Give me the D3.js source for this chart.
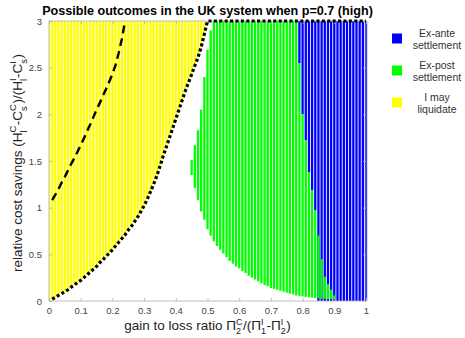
<!DOCTYPE html>
<html>
<head>
<meta charset="utf-8">
<script src="https://cdn.jsdelivr.net/npm/d3@7/dist/d3.min.js"></script>
<style>
  html, body { margin: 0; padding: 0; background: #fff; }
  svg { display: block; font-family: "Liberation Sans", Arial, sans-serif; }
</style>
</head>
<body>
<svg id="chart" width="465" height="338"></svg>
<script>
// Gain-to-loss ratio grid (one column per value)
const gainGrid = [0,0.01,0.02,0.03,0.04,0.05,0.06,0.07,0.08,0.09,0.1,0.11,0.12,0.13,0.14,0.15,0.16,0.17,0.18,0.19,0.2,
  0.21,0.22,0.23,0.24,0.25,0.26,0.27,0.28,0.29,0.3,0.31,0.32,0.33,0.34,0.35,0.36,0.37,0.38,0.39,0.4,
  0.41,0.42,0.43,0.44,0.45,0.46,0.47,0.48,0.49,0.5,0.51,0.52,0.53,0.54,0.55,0.56,0.57,0.58,0.59,0.6,
  0.61,0.62,0.63,0.64,0.65,0.66,0.67,0.68,0.69,0.7,0.71,0.72,0.73,0.74,0.75,0.76,0.77,0.78,0.79,0.8,
  0.81,0.82,0.83,0.84,0.85,0.86,0.87,0.88,0.89,0.9,0.91,0.92,0.93,0.94,0.95,0.96,0.97,0.98,0.99,1];

// Liquidation threshold (dotted curve); liquidation possible above it
const liquidFloor = [0,0.02,0.04,0.06,0.08,0.10,0.12,0.15,0.17,0.20,0.22,0.25,0.28,0.31,0.34,0.37,0.41,0.44,0.48,0.51,0.55,
  0.59,0.63,0.67,0.71,0.76,0.80,0.85,0.90,0.96,1.02,1.09,1.17,1.25,1.34,1.44,1.55,1.65,1.75,1.85,1.95,
  2.05,2.15,2.25,2.34,2.43,2.52,2.61,2.72,2.86,3,3,3,3,3,3,3,3,3,3,3,
  3,3,3,3,3,3,3,3,3,3,3,3,3,3,3,3,3,3,3,3,
  3,3,3,3,3,3,3,3,3,3,3,3,3,3,3,3,3,3,3,3];

// Second threshold (dashed curve), for gain ratio 0.01 .. 0.24
const dashedGain = [0.01,0.02,0.03,0.04,0.05,0.06,0.07,0.08,0.09,0.1,0.11,0.12,0.13,0.14,0.15,0.16,0.17,0.18,0.19,0.2,0.21,0.22,0.23,0.24];
const dashedCurve = [1.08,1.14,1.20,1.27,1.33,1.40,1.47,1.53,1.60,1.67,1.74,1.82,1.89,1.97,2.05,2.12,2.20,2.27,2.35,2.43,2.53,2.66,2.81,3.0];

// Ex-post settlement band, gain ratio 0.45 .. 0.90
const greenGain = [0.45,0.46,0.47,0.48,0.49,0.5,0.51,0.52,0.53,0.54,0.55,0.56,0.57,0.58,0.59,0.6,
  0.61,0.62,0.63,0.64,0.65,0.66,0.67,0.68,0.69,0.7,0.71,0.72,0.73,0.74,0.75,0.76,0.77,0.78,0.79,0.8,
  0.81,0.82,0.83,0.84,0.85,0.86,0.87,0.88,0.89,0.9];
const greenLow = [1.35,1.21,1.08,0.96,0.87,0.77,0.70,0.64,0.59,0.55,0.51,0.47,0.43,0.40,0.37,0.35,
  0.32,0.30,0.27,0.25,0.23,0.21,0.19,0.17,0.16,0.14,0.13,0.12,0.11,0.10,0.09,0.08,0.07,0.06,0.055,0.05,
  0.045,0.04,0.035,0.03,0.03,0.025,0.025,0.02,0.02,0.02];
const greenHigh = [1.51,1.67,1.83,2.05,2.40,2.69,2.90,3,3,3,3,3,3,3,3,3,
  3,3,3,3,3,3,3,3,3,3,3,3,3,3,3,3,3,3,2.55,2.0,
  1.72,1.38,1.19,0.97,0.70,0.45,0.26,0.18,0.12,0.06];

// Ex-ante settlement: blue from floor up to 3, gain ratio 0.79 .. 1
const blueGain = [0.79,0.8,0.81,0.82,0.83,0.84,0.85,0.86,0.87,0.88,0.89,0.9,0.91,0.92,0.93,0.94,0.95,0.96,0.97,0.98,0.99,1];
const blueFloor = [2.55,2.0,1.72,1.38,1.19,0.97,0,0,0,0,0,0,0,0,0,0,0,0,0,0,0,0];

const yMax = 3;
const xTicks = [0,0.1,0.2,0.3,0.4,0.5,0.6,0.7,0.8,0.9,1];
const yTicks = [0,0.5,1,1.5,2,2.5,3];

const legendItems = [
  { lines: ["Ex-ante", "settlement"], color: "#0000ff" },
  { lines: ["Ex-post", "settlement"], color: "#00ff00" },
  { lines: ["I may", "liquidate"], color: "#ffff00" }
];

// Axis label pieces: plain text runs and stacked super/subscript pairs
const xLabelParts = [
  { t: "gain to loss ratio \u03A0" }, { sup: "C", sub: "2" },
  { t: "/(\u03A0" }, { sup: "I", sub: "1" },
  { t: "-\u03A0" }, { sup: "I", sub: "2" }, { t: ")" }
];
const yLabelParts = [
  { t: "relative cost savings (H" }, { sup: "C", sub: "l" },
  { t: "-C" }, { sup: "C", sub: "s" },
  { t: ")/(H" }, { sup: "I", sub: "l" },
  { t: "-C" }, { sup: "I", sub: "s" }, { t: ")" }
];

const svg = d3.select("#chart");
const L = 49, R = 366, T = 21, B = 301;
const x = d3.scaleLinear().domain([0, 1]).range([L, R]);
const y = d3.scaleLinear().domain([0, 3]).range([B, T]);
const colW = 2.3;

svg.append("rect").attr("width", 465).attr("height", 338).attr("fill", "#fff");

svg.append("clipPath").attr("id", "plotClip")
  .append("rect").attr("x", L).attr("y", T - 1).attr("width", R - L + 2).attr("height", B - T + 1);

const plot = svg.append("g").attr("clip-path", "url(#plotClip)");

function columns(g, data, color) {
  g.append("g").selectAll("rect").data(data).join("rect")
    .attr("x", d => x(d.g) - colW / 2).attr("width", colW)
    .attr("y", d => y(d.hi)).attr("height", d => y(d.lo) - y(d.hi))
    .attr("fill", color);
}

// liquidation columns
columns(plot, gainGrid.map((g, i) => ({ g, lo: liquidFloor[i], hi: yMax })).filter(d => d.lo < d.hi), "#ffff00");
// ex-ante columns
columns(plot, blueGain.map((g, i) => ({ g, lo: blueFloor[i], hi: yMax })), "#0000ff");
// ex-post columns
columns(plot, greenGain.map((g, i) => ({ g, lo: greenLow[i], hi: greenHigh[i] })), "#00ff00");

// axes box
const axisColor = "#b0b0b0";
const axes = svg.append("g");
axes.append("rect").attr("x", L).attr("y", T).attr("width", R - L).attr("height", B - T)
  .attr("fill", "none").attr("stroke", axisColor).attr("stroke-width", 0.8);

const fmt = d => d3.format("~g")(d);
axes.append("g").attr("transform", `translate(0,${B})`)
  .call(d3.axisBottom(x).tickValues(xTicks).tickSize(-3).tickPadding(6).tickFormat(fmt));
axes.append("g").attr("transform", `translate(${L},0)`)
  .call(d3.axisLeft(y).tickValues(yTicks).tickSize(-3).tickPadding(7).tickFormat(fmt));
axes.append("g").attr("transform", `translate(${R},0)`)
  .call(d3.axisRight(y).tickValues(yTicks).tickSize(-3).tickFormat(""));
axes.append("g").attr("transform", `translate(0,${T})`)
  .call(d3.axisTop(x).tickValues(xTicks).tickSize(-3).tickFormat(""));

axes.selectAll(".domain").remove();
axes.selectAll(".tick line").attr("stroke", axisColor).attr("stroke-width", 0.8);
axes.selectAll(".tick text").attr("fill", "#444").attr("font-size", 9.5)
  .attr("font-family", "'Liberation Sans', Arial, sans-serif");

// threshold curves
const lineGen = d3.line().x(d => x(d[0])).y(d => y(d[1]));
const dottedPts = gainGrid.map((g, i) => [g, liquidFloor[i]]).filter(d => d[0] >= 0.01);
svg.append("path").attr("d", lineGen(dottedPts))
  .attr("fill", "none").attr("stroke", "#000").attr("stroke-width", 3.2)
  .attr("stroke-dasharray", "3 2.4");

svg.append("path").attr("d", lineGen(dashedGain.map((g, i) => [g, dashedCurve[i]])))
  .attr("fill", "none").attr("stroke", "#000").attr("stroke-width", 2.4)
  .attr("stroke-dasharray", "8 5");

// title
svg.append("text").attr("x", (L + R) / 2).attr("y", 15)
  .attr("text-anchor", "middle").attr("font-weight", "bold").attr("font-size", 12.6)
  .attr("fill", "#000")
  .text("Possible outcomes in the UK system when p=0.7 (high)");

// Lays out a label from text runs and stacked scripts, centred on the group origin
function richLabel(g, parts, size, scriptSize, supUp, subDown) {
  let cx = 0;
  parts.forEach(p => {
    if (p.t !== undefined) {
      const t = g.append("text").attr("x", cx).attr("y", 0)
        .attr("font-size", size).attr("fill", "#222").text(p.t);
      cx += t.node().getComputedTextLength();
    } else {
      const a = g.append("text").attr("x", cx).attr("y", -supUp)
        .attr("font-size", scriptSize).attr("fill", "#222").text(p.sup);
      const b = g.append("text").attr("x", cx).attr("y", subDown)
        .attr("font-size", scriptSize).attr("fill", "#222").text(p.sub);
      cx += Math.max(a.node().getComputedTextLength(), b.node().getComputedTextLength()) + 0.5;
    }
  });
  g.selectAll("text").attr("x", function () { return +d3.select(this).attr("x") - cx / 2; });
}

const xl = svg.append("g").attr("transform", `translate(${(L + R) / 2},330)`);
richLabel(xl, xLabelParts, 13.5, 9, 5.2, 3.6);

const yl = svg.append("g").attr("transform", `translate(22,${(T + B) / 2 + 2}) rotate(-90)`);
richLabel(yl, yLabelParts, 13.5, 9.5, 6.5, 4.9);

// legend
const lg = svg.append("g");
legendItems.forEach((item, i) => {
  const cy = 38.5 + i * 32;
  lg.append("rect").attr("x", 392).attr("y", cy - 5).attr("width", 10).attr("height", 10)
    .attr("fill", item.color);
  item.lines.forEach((ln, j) => {
    lg.append("text").attr("x", 437).attr("y", cy - 2 + j * 12.5)
      .attr("text-anchor", "middle").attr("font-size", 10.5).attr("fill", "#333").text(ln);
  });
});
</script>
</body>
</html>
